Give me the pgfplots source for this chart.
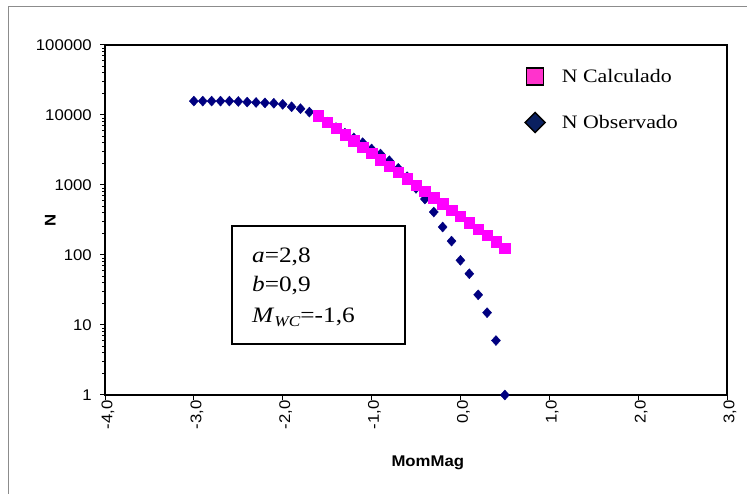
\documentclass[border=0pt]{standalone}
\usepackage{fontspec}
\setmainfont{Liberation Serif}
\newfontfamily\arialf[FakeStretch=1.08]{Liberation Sans}
\newfontfamily\timesf[FakeStretch=1.15]{Liberation Serif}
\usepackage{pgfplots}
\usepackage{pgfplotstable}
\pgfplotsset{compat=1.18}

\definecolor{calc}{RGB}{255,0,255}
\definecolor{obs}{RGB}{0,0,128}
\definecolor{legcalc}{RGB}{255,51,204}
\definecolor{legobs}{RGB}{10,32,96}

% N observado (cumulative counts)
\pgfplotstableread{
M N
-3.0 15800
-2.9 15800
-2.8 15800
-2.7 15800
-2.6 15800
-2.5 15600
-2.4 15300
-2.3 15100
-2.2 14900
-2.1 14700
-2.0 14200
-1.9 13100
-1.8 12300
-1.7 11000
-1.6 9500
-1.5 7900
-1.4 6600
-1.3 5500
-1.2 4700
-1.1 4020
-1.0 3270
-0.9 2770
-0.8 2220
-0.7 1730
-0.6 1315
-0.5 896
-0.4 630
-0.3 411
-0.2 251
-0.1 158
0.0 84
0.1 54
0.2 27
0.3 15
0.4 6
0.5 1
}\obstable

% N calculado
\pgfplotstableread{
M N
-1.6 9772
-1.5 7943
-1.4 6457
-1.3 5248
-1.2 4266
-1.1 3467
-1.0 2818
-0.9 2291
-0.8 1862
-0.7 1514
-0.6 1230
-0.5 1000
-0.4 813
-0.3 661
-0.2 537
-0.1 437
0.0 355
0.1 288
0.2 234
0.3 191
0.4 155
0.5 126
}\calctable

\begin{document}
\begin{tikzpicture}
\useasboundingbox (0,0) rectangle (747pt,494pt);
% chart area frame (cut at right and bottom)
\draw[black!45, line width=1pt] (8pt,0pt) -- (8pt,487pt) -- (747pt,487pt);
\begin{axis}[
    at={(105pt,99pt)}, anchor=south west,
    width=622pt, height=350pt, scale only axis,
    ymode=log,
    xmin=-4, xmax=3,
    ymin=1, ymax=100000,
    xtick={-4,-3,-2,-1,0,1,2,3},
    xticklabels={{-4,0},{-3,0},{-2,0},{-1,0},{0,0},{1,0},{2,0},{3,0}},
    ytick={1,10,100,1000,10000,100000},
    yticklabels={1,10,100,1000,10000,100000},
    minor tick num=0,
    xtick pos=left, ytick pos=left,
    tick align=outside,
    major tick length=5pt,
    tick style={black, line width=1pt},
    axis line style={black, line width=1.3pt},
    tick label style={font=\arialf\fontsize{15.5}{18}\selectfont},
    xticklabel style={rotate=90, anchor=east, inner sep=0pt, yshift=-3pt},
    yticklabel style={anchor=east, inner sep=0pt, xshift=-8pt},
    xlabel={MomMag}, ylabel={N},
    every axis x label/.style={at={(axis description cs:0.519,-0.194)}, anchor=center,
        font=\arialf\bfseries\fontsize{15.5}{18}\selectfont},
    every axis y label/.style={at={(axis description cs:-0.088,0.5)}, rotate=90, anchor=center,
        font=\arialf\bfseries\fontsize{15.5}{18}\selectfont},
    clip=false,
    reverse legend,
    legend style={at={(axis description cs:0.674,0.937)}, anchor=north west,
        draw=none, fill=none, inner sep=0pt,
        font=\timesf\fontsize{19}{22}\selectfont,
        row sep=26pt, column sep=16pt,
        nodes={inner sep=0pt}},
    legend cell align=left,
]
\addplot[only marks, mark=diamond*, mark size=5pt, color=obs,
    mark options={xscale=1.2, draw=obs, fill=obs},
    legend image code/.code={\draw[fill=legobs, draw=black, line width=1.5pt] (0pt,10pt) -- (10pt,0pt) -- (0pt,-10pt) -- (-10pt,0pt) -- cycle;}]
    table[x=M, y=N] {\obstable};
\addlegendentry{N Observado}
\addplot[only marks, mark=square*, mark size=5.2pt, color=calc,
    mark options={draw=calc, fill=calc},
    legend image code/.code={\draw[fill=legcalc, draw=black, line width=1.5pt] (-8.5pt,-8.5pt) rectangle (8.5pt,8.5pt);}]
    table[x=M, y=N] {\calctable};
\addlegendentry{N Calculado}

\draw[black, line width=1.3pt] (rel axis cs:0.2042,0.1457) rectangle (rel axis cs:0.4823,0.4829);
\node[anchor=base west, inner sep=0pt, font=\timesf\fontsize{22}{26}\selectfont] at (rel axis cs:0.2363,0.378) {\textit{a}=2,8};
\node[anchor=base west, inner sep=0pt, font=\timesf\fontsize{22}{26}\selectfont] at (rel axis cs:0.2363,0.295) {\textit{b}=0,9};
\node[anchor=base west, inner sep=0pt, font=\timesf\fontsize{22}{26}\selectfont] at (rel axis cs:0.2363,0.206) {\textit{M}\raisebox{-4pt}{\fontsize{15}{15}\selectfont\textit{WC}}=-1,6};
\end{axis}
\end{tikzpicture}
\end{document}
